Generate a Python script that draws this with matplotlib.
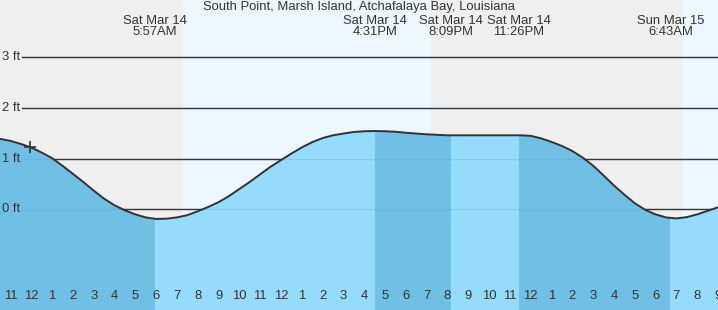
import matplotlib
matplotlib.use("Agg")
import matplotlib.pyplot as plt
from matplotlib.transforms import blended_transform_factory

plt.rcParams['font.family'] = ['Liberation Sans', 'DejaVu Sans']

# hours since Sat Mar 14 00:00, tide height in ft (every half hour)
tide_hours = [-1.5, -1.0, -0.5, 0.0, 0.5, 1.0, 1.5, 2.0, 2.5, 3.0, 3.5, 4.0, 4.5, 5.0,
              5.5, 6.0, 6.5, 7.0, 7.5, 8.0, 8.5, 9.0, 9.5, 10.0, 10.5, 11.0, 11.5, 12.0,
              12.5, 13.0, 13.5, 14.0, 14.5, 15.0, 15.5, 16.0, 16.5, 17.0, 17.5, 18.0,
              18.5, 19.0, 19.5, 20.0, 20.5, 21.0, 21.5, 22.0, 22.5, 23.0, 23.5, 24.0,
              24.5, 25.0, 25.5, 26.0, 26.5, 27.0, 27.5, 28.0, 28.5, 29.0, 29.5, 30.0,
              30.5, 31.0, 31.5, 32.0, 32.5, 33.0, 33.5]
tide_ft = [1.39, 1.35, 1.29, 1.22, 1.12, 1.01, 0.86, 0.70, 0.54, 0.37, 0.21, 0.08, -0.02, -0.10,
           -0.16, -0.19, -0.185, -0.16, -0.115, -0.04, 0.045, 0.14, 0.26, 0.40, 0.54, 0.69, 0.84, 0.97,
           1.10, 1.22, 1.325, 1.405, 1.46, 1.495, 1.525, 1.54, 1.545, 1.54, 1.53, 1.51,
           1.495, 1.48, 1.47, 1.46, 1.46, 1.46, 1.46, 1.46, 1.46, 1.46, 1.46, 1.45,
           1.40, 1.33, 1.25, 1.15, 1.02, 0.86, 0.67, 0.47, 0.29, 0.12, -0.01, -0.10,
           -0.16, -0.18, -0.155, -0.10, -0.03, 0.04, 0.11]

# high / low events
event_hours = [5.95, 16.517, 20.15, 23.433, 30.717]
event_days = ["Sat Mar 14", "Sat Mar 14", "Sat Mar 14", "Sat Mar 14", "Sun Mar 15"]
event_times = ["5:57AM", "4:31PM", "8:09PM", "11:26PM", "6:43AM"]

# daylight (sunrise, sunset)
daylight = [(7.27, 19.23), (31.25, 40.0)]

now_hour, now_ft = -0.07, 1.23

hour_ticks = list(range(-1, 34))
hour_labels = ["11", "12", "1", "2", "3", "4", "5", "6", "7", "8", "9", "10", "11",
               "12", "1", "2", "3", "4", "5", "6", "7", "8", "9", "10", "11",
               "12", "1", "2", "3", "4", "5", "6", "7", "8", "9"]

grid_ft = [0, 1, 2, 3]

title = "South Point, Marsh Island, Atchafalaya Bay, Louisiana"

W, H = 718, 310
xmin, xmax = -1.5, 33.0
ymin, ymax = -1.987, 4.13

fig = plt.figure(figsize=(W / 100, H / 100), dpi=100)
ax = fig.add_axes([0, 0, 1, 1])
ax.set_xlim(xmin, xmax)
ax.set_ylim(ymin, ymax)
for s in ax.spines.values():
    s.set_visible(False)
ax.set_facecolor('#efefef')

txt = '#333333'
fs = 9.4

for a, b in daylight:
    ax.axvspan(a, b, color='#eef7fe', zorder=0, lw=0)

# grid lines
for g in grid_ft:
    ax.axhline(g, xmin=22 / W, xmax=1, color='#333333', lw=1.0, zorder=1)
    ax.text(2 / W, g, f"{g} ft", transform=blended_transform_factory(ax.transAxes, ax.transData),
            ha='left', va='center', fontsize=fs, color=txt)

# water fill, darker while the tide falls
light = '#94dbfc'
dark = '#70c0e6'
poly = ax.fill_between(tide_hours, tide_ft, ymin, color=light, lw=0, zorder=2)
clip = poly.get_paths()[0]
bounds = [xmin - 1] + event_hours + [xmax + 1]
for i in range(0, len(bounds) - 1, 2):
    span = ax.axvspan(bounds[i], bounds[i + 1], color=dark, lw=0, zorder=2.1)
    span.set_clip_path(clip, ax.transData)

for g in grid_ft:
    ax.axhline(g, xmin=22 / W, xmax=1, color='#1a6a99', lw=1.0, alpha=0.12, zorder=2.5)

ax.plot(tide_hours, tide_ft, color='#333333', lw=1.4, zorder=3,
        solid_joinstyle='round')
ax.plot([now_hour], [now_ft], marker='+', ms=9, mew=1.2, color='#333333', zorder=4)

# x ticks and labels
ax.set_xticks(hour_ticks)
ax.tick_params(axis='x', direction='in', length=6, width=0.9, color='#333333',
               labelbottom=False)
ax.tick_params(axis='y', left=False, labelleft=False)
for tk, h in zip(ax.xaxis.get_major_ticks(), hour_ticks):
    if h % 24 == 0:
        tk.tick1line.set_markeredgewidth(2.6)
bt = blended_transform_factory(ax.transData, ax.transAxes)
for h, lab in zip(hour_ticks, hour_labels):
    ax.text(h, 1 - 296 / H, lab, transform=bt, ha='center', va='center',
            fontsize=fs, color=txt)

# event labels
for h, d, t in zip(event_hours, event_days, event_times):
    ax.text(h, 1 - 26.5 / H, d + "\n" + t, transform=bt, ha='center', va='center',
            fontsize=fs, color=txt, linespacing=0.95)

ax.text(0.5, 1 - 7 / H, title, transform=ax.transAxes, ha='center', va='center',
        fontsize=fs, color=txt)

fig.savefig("out.png", dpi=100)
